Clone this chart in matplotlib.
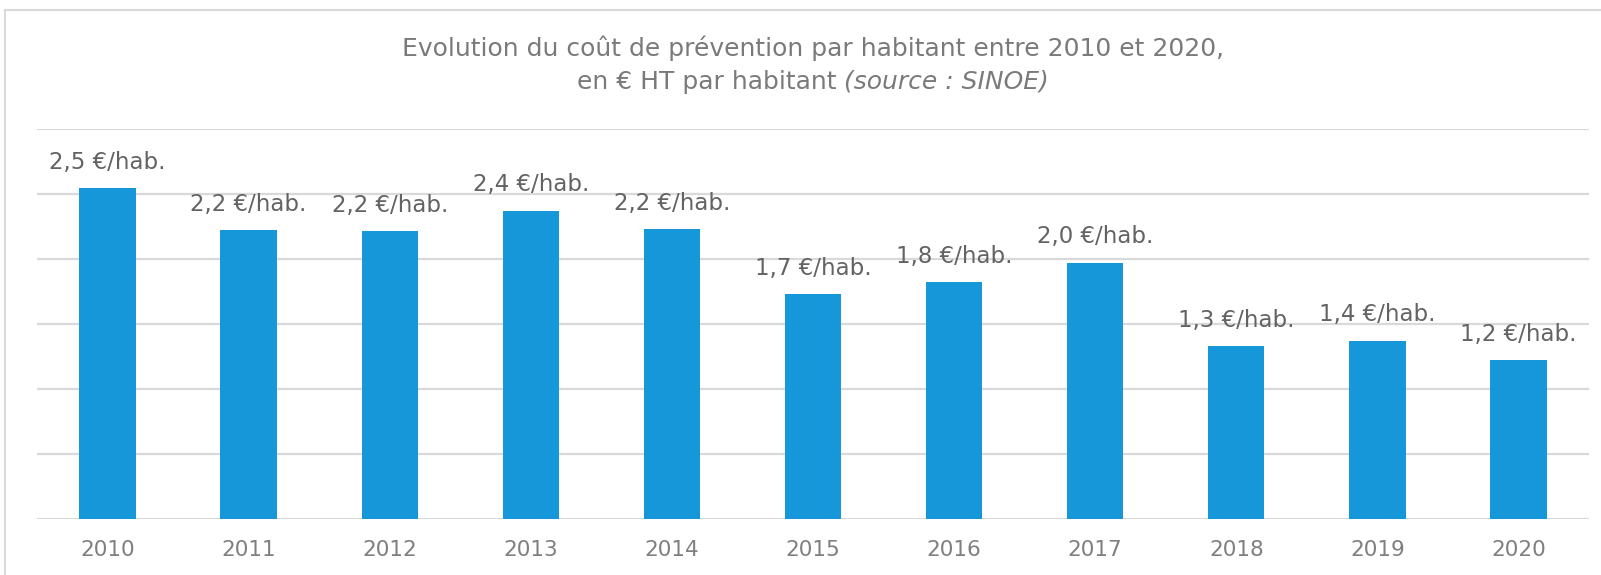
import matplotlib

matplotlib.use("Agg")
import matplotlib.pyplot as plt
from matplotlib.lines import Line2D

years = ["2010", "2011", "2012", "2013", "2014", "2015",
         "2016", "2017", "2018", "2019", "2020"]
cost = [2.54, 2.22, 2.21, 2.37, 2.23, 1.73, 1.82, 1.97, 1.33, 1.37, 1.22]

BAR = "#1697d9"
GRID = "#d9d9d9"
TXT = "#7a7a7a"

plt.rcParams["font.family"] = ["DejaVu Sans"]

fig = plt.figure(figsize=(16.01, 5.75), dpi=100)
ax = fig.add_axes([37 / 1601, 1 - 519 / 575, 1552 / 1601, (519 - 128.5) / 575])

x = range(len(years))
bars = ax.bar(x, cost, width=0.4, color=BAR, zorder=2)
for b, v in zip(bars, cost):
    lab = f"{v:.1f}".replace(".", ",") + " €/hab."
    ax.annotate(lab, (b.get_x() + b.get_width() / 2, v), xytext=(0, 18.5),
                textcoords="offset points", ha="center", va="center",
                fontsize=16.5, color="#636363")

ax.set_xlim(-0.5, len(years) - 0.5)
ax.set_ylim(0, 3)
ax.set_yticks([0, 0.5, 1, 1.5, 2, 2.5, 3])
ax.yaxis.grid(True, color=GRID, lw=1.6, zorder=0)
ax.tick_params(axis="y", left=False, labelleft=False)
ax.set_xticks(list(x))
ax.set_xticklabels(years, fontsize=15.5, color="#7f7f7f")
ax.tick_params(axis="x", length=0, pad=15)
for s in ax.spines.values():
    s.set_visible(False)

# title, second line has an italic source part
cx = (37 + 1552 / 2) / 1601
fig.text(cx, 1 - 48 / 575,
         "Evolution du coût de prévention par habitant entre 2010 et 2020,",
         ha="center", va="center", fontsize=18, color=TXT)
fig.canvas.draw()
r = fig.canvas.get_renderer()
y2 = 1 - 82 / 575
t_a = fig.text(0, y2, "en € HT par habitant ", ha="left", va="center",
               fontsize=18, color=TXT)
t_b = fig.text(0, y2, "(source : SINOE)", ha="left", va="center",
               fontsize=18, color=TXT, style="italic")
wa = t_a.get_window_extent(r).width / fig.bbox.width
wb = t_b.get_window_extent(r).width / fig.bbox.width
x0 = cx - (wa + wb) / 2
t_a.set_x(x0)
t_b.set_x(x0 + wa)

# light outer frame
fig.add_artist(Line2D([5 / 1601, 1], [1 - 10 / 575] * 2, color=GRID, lw=1.5,
                      transform=fig.transFigure))
fig.add_artist(Line2D([5 / 1601] * 2, [0, 1 - 10 / 575], color=GRID, lw=1.5,
                      transform=fig.transFigure))

fig.savefig("out.png", dpi=100)
